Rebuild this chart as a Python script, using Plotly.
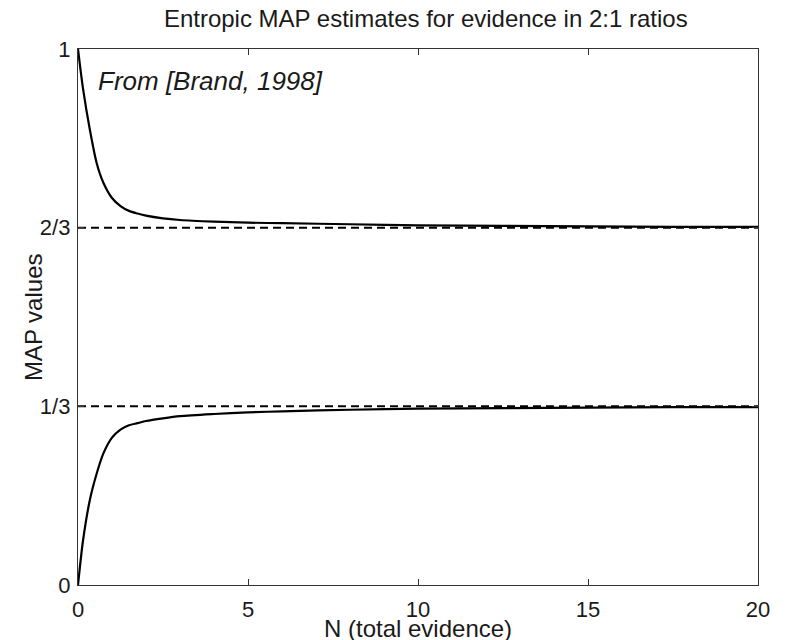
import plotly.graph_objects as go

# Values (N = total evidence)
n_values = [0, 0.15, 0.35, 0.55, 0.75, 1.0, 1.25, 1.5, 1.75, 2.0, 2.5, 3, 4, 5, 6, 8, 10, 12.5, 15, 17.5, 20]
upper_map = [1.0, 0.925, 0.849, 0.787, 0.750, 0.722, 0.707, 0.698, 0.693, 0.689, 0.684,
             0.681, 0.678, 0.676, 0.675, 0.673, 0.671, 0.670, 0.669, 0.668, 0.668]
lower_map = [0.0, 0.084, 0.159, 0.208, 0.246, 0.275, 0.290, 0.298, 0.302, 0.306, 0.311,
             0.315, 0.319, 0.322, 0.324, 0.327, 0.329, 0.330, 0.331, 0.332, 0.332]

ref_x = [0, 20]
ref_levels = [2 / 3, 1 / 3]

y_tickvals = [0, 1 / 3, 2 / 3, 1]
y_ticktext = ["0", "1/3", "2/3", "1"]
x_tickvals = [0, 5, 10, 15, 20]

FONT = "Liberation Sans, Arial, sans-serif"
INK = "#1a1a1a"

fig = go.Figure()

# Dashed asymptotes at 2/3 and 1/3.
for level in ref_levels:
    fig.add_trace(
        go.Scatter(
            x=ref_x,
            y=[level, level],
            mode="lines",
            line=dict(color="black", width=2, dash="8px,5px"),
            hoverinfo="skip",
            showlegend=False,
        )
    )

# Entropic MAP curves.
for series in (upper_map, lower_map):
    fig.add_trace(
        go.Scatter(
            x=n_values,
            y=series,
            mode="lines",
            line=dict(color="black", width=2.2, shape="spline", smoothing=0.8),
            showlegend=False,
        )
    )

fig.add_annotation(
    x=0.027, y=0.94, xref="paper", yref="paper",
    text="From [Brand, 1998]", showarrow=False,
    xanchor="left", yanchor="middle",
    font=dict(family=FONT, size=26, color=INK, style="italic"),
)

# Axis titles placed as annotations so they sit where the reference has them.
fig.add_annotation(
    x=0.5, y=-0.082, xref="paper", yref="paper",
    text="N (total evidence)", showarrow=False,
    xanchor="center", yanchor="middle",
    font=dict(family=FONT, size=24, color=INK),
)
fig.add_annotation(
    x=-0.066, y=0.5, xref="paper", yref="paper",
    text="MAP values", showarrow=False, textangle=-90,
    xanchor="center", yanchor="middle",
    font=dict(family=FONT, size=24, color=INK),
)

axis_common = dict(
    showgrid=False,
    zeroline=False,
    showline=True,
    linecolor="#333333",
    linewidth=1.3,
    mirror="ticks",
    ticks="inside",
    ticklen=6,
    tickwidth=1,
    tickcolor="#333333",
    automargin=False,
    tickfont=dict(family=FONT, size=22, color=INK),
)

# The page body adds an 8px margin, so the figure is 8px smaller than the window.
fig.update_layout(
    width=778,
    height=632,
    paper_bgcolor="white",
    plot_bgcolor="white",
    margin=dict(l=70, r=28, t=41, b=55),
    title=dict(
        text="Entropic MAP estimates for evidence in 2:1 ratios",
        x=0.537, xanchor="center",
        y=0.984, yanchor="middle",
        font=dict(family=FONT, size=24, color=INK),
    ),
    xaxis=dict(
        range=[0, 20],
        tickvals=x_tickvals,
        ticktext=[str(v) for v in x_tickvals],
        ticklabelstandoff=4,
        **axis_common,
    ),
    yaxis=dict(
        range=[0, 1],
        tickvals=y_tickvals,
        ticktext=y_ticktext,
        ticklabelstandoff=2,
        **axis_common,
    ),
)

fig.write_html("out.html")
